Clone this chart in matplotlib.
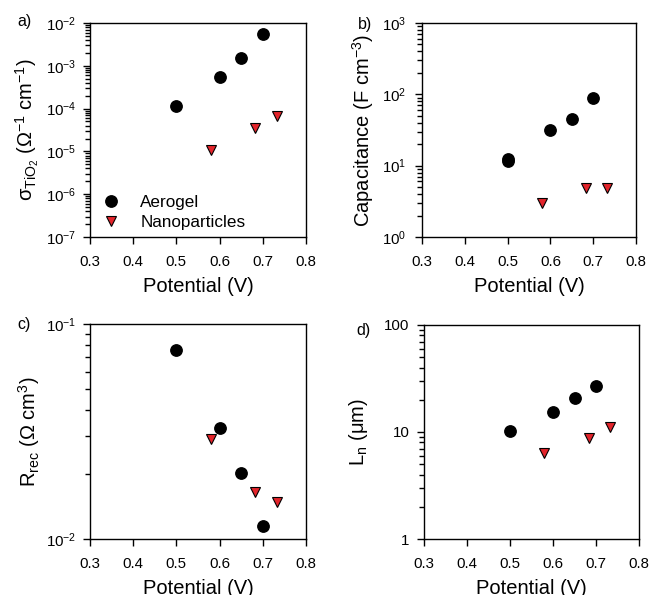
import matplotlib
matplotlib.use("Agg")
import numpy as np
import matplotlib.pyplot as plt
from matplotlib.ticker import FixedLocator, FixedFormatter, NullFormatter

plt.rcParams['font.family'] = ['Liberation Sans', 'DejaVu Sans']
plt.rcParams['mathtext.fontset'] = 'custom'
plt.rcParams['mathtext.rm'] = 'Liberation Sans'
plt.rcParams['mathtext.it'] = 'Liberation Sans:italic'
plt.rcParams['mathtext.default'] = 'regular'

# data
aerogel_v = [0.5, 0.6, 0.65, 0.7]
nano_v = [0.58, 0.683, 0.733]

sigma_aerogel = [1.17e-4, 5.4e-4, 1.55e-3, 5.4e-3]
sigma_nano = [1.05e-5, 3.5e-5, 6.6e-5]

cap_aerogel_v = [0.5, 0.5, 0.6, 0.65, 0.7]
cap_aerogel = [11.5, 12.6, 32.0, 45.5, 90.0]
cap_nano = [3.0, 4.8, 4.8]

rrec_aerogel = [0.076, 0.033, 0.0203, 0.0115]
rrec_nano = [0.0291, 0.0166, 0.0149]

ln_aerogel = [10.2, 15.5, 20.6, 27.1]
ln_nano = [6.3, 8.7, 11.1]

xticks = [0.3, 0.4, 0.5, 0.6, 0.7, 0.8]
RED = '#E3242B'

fig = plt.figure(figsize=(6.51, 5.95), dpi=100)
ax_a = fig.add_axes([0.1382, 0.6017, 0.3318, 0.3596])
ax_b = fig.add_axes([0.6482, 0.6017, 0.3288, 0.3596])
ax_c = fig.add_axes([0.1382, 0.0941, 0.3318, 0.3614])
ax_d = fig.add_axes([0.6513, 0.0941, 0.3303, 0.3597])


def style(ax, ylim, ypad):
    ax.set_yscale('log')
    ax.set_xlim(0.3, 0.8)
    ax.set_ylim(*ylim)
    ax.set_xticks(xticks)
    ax.set_xticklabels([f"{t:.1f}" for t in xticks])
    lo, hi = int(round(np.log10(ylim[0]))), int(round(np.log10(ylim[1])))
    minors = [m * 10.0 ** e for e in range(lo, hi) for m in range(2, 10)]
    ax.set_yticks(minors, minor=True)
    ax.yaxis.set_minor_formatter(NullFormatter())
    ax.tick_params(axis='x', which='major', direction='out', length=5, width=1,
                   labelsize=10.8, pad=8, top=False, bottom=True)
    ax.tick_params(axis='y', which='major', direction='out', length=5, width=1,
                   labelsize=10.8, pad=ypad, right=False, left=True)
    ax.tick_params(axis='y', which='minor', direction='out', length=3.5, width=1,
                   right=False, left=True)
    ax.tick_params(axis='x', which='minor', bottom=False, top=False)
    ax.set_xlabel('Potential (V)', fontsize=14.5, labelpad=6)
    for s in ax.spines.values():
        s.set_linewidth(1.0)


def points(ax, xa, ya, yn):
    ax.plot(xa, ya, 'o', ms=8.2, color='black', ls='none', label='Aerogel')
    ax.plot(nano_v, yn, 'v', ms=7.6, mfc=RED, mec='black', mew=0.8, ls='none',
            label='Nanoparticles')


# a)
points(ax_a, aerogel_v, sigma_aerogel, sigma_nano)
style(ax_a, (1e-7, 1e-2), 5)
ax_a.set_ylabel(r'σ$_{TiO_2}$ (Ω$^{-1}$ cm$^{-1}$)', fontsize=14.5, labelpad=3)
ax_a.legend(loc='lower left', frameon=False, fontsize=12.3, handletextpad=0.7,
            borderaxespad=0, labelspacing=0.3, bbox_to_anchor=(-0.012, 0.0))

# b)
points(ax_b, cap_aerogel_v, cap_aerogel, cap_nano)
style(ax_b, (1, 1000), 6.5)
ax_b.set_ylabel(r'Capacitance (F cm$^{-3}$)', fontsize=14.5, labelpad=4)

# c)
points(ax_c, aerogel_v, rrec_aerogel, rrec_nano)
style(ax_c, (0.01, 0.1), 5)
ax_c.set_ylabel(r'R$_{rec}$ (Ω cm$^{3}$)', fontsize=14.5, labelpad=3)

# d)
points(ax_d, aerogel_v, ln_aerogel, ln_nano)
style(ax_d, (1, 100), 5.5)
ax_d.yaxis.set_major_locator(FixedLocator([1, 10, 100]))
ax_d.yaxis.set_major_formatter(FixedFormatter(['1', '10', '100']))
ax_d.set_ylabel(r'L$_{n}$ (μm)', fontsize=14.5, labelpad=10)

panel_labels = ['a)', 'b)', 'c)', 'd)']
label_x = [0.026, 0.550, 0.026, 0.548]
label_y = [0.964, 0.958, 0.454, 0.445]
for lab, x, y in zip(panel_labels, label_x, label_y):
    fig.text(x, y, lab, fontsize=11.5, ha='left', va='center')

fig.savefig('out.png', dpi=100)
